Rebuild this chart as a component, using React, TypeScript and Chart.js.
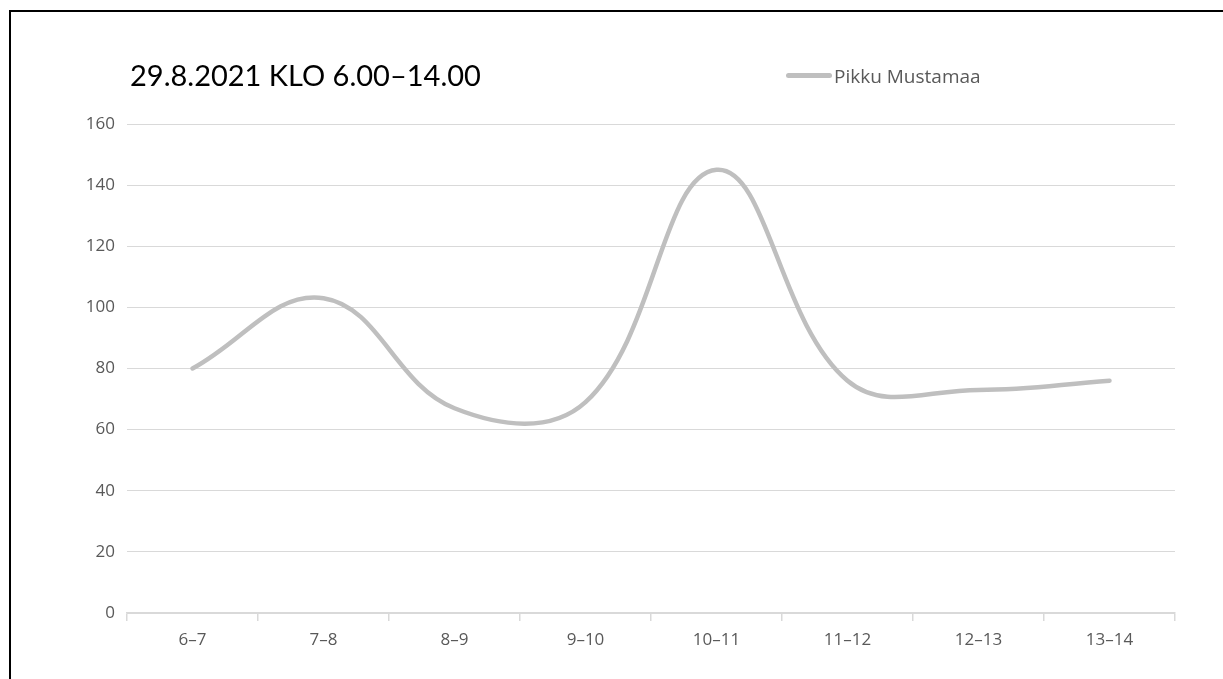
import React, { useEffect, useRef } from "react";
import { Chart, registerables } from "chart.js";

Chart.register(...registerables);

const categories = ["6–7", "7–8", "8–9", "9–10", "10–11", "11–12", "12–13", "13–14"];
const seriesName = "Pikku Mustamaa";
const seriesValues = [80, 103, 67, 69, 145, 76, 73, 76];
const yMin = 0;
const yMax = 160;
const yStep = 20;
const titleText = "29.8.2021 KLO 6.00–14.00";

const LABEL_COLOR = "#595959";
const GRID_COLOR = "#D9D9D9";
const LINE_COLOR = "#BFBFBF";
const FONT = "'Open Sans', 'Noto Sans', sans-serif";

export default function App() {
  const canvasRef = useRef<HTMLCanvasElement | null>(null);

  useEffect(() => {
    const canvas = canvasRef.current;
    if (!canvas) return;
    const chart = new Chart(canvas, {
      type: "line",
      data: {
        labels: categories,
        datasets: [
          {
            label: seriesName,
            data: seriesValues,
            borderColor: LINE_COLOR,
            backgroundColor: LINE_COLOR,
            borderWidth: 4.5,
            borderCapStyle: "round",
            borderJoinStyle: "round",
            pointRadius: 0,
            pointHoverRadius: 0,
            fill: false,
            tension: 0.4,
            cubicInterpolationMode: "default",
          },
        ],
      },
      options: {
        animation: false,
        responsive: false,
        maintainAspectRatio: false,
        events: [],
        layout: { padding: { left: 0, top: 124, right: 48, bottom: 0 } },
        plugins: {
          legend: { display: false },
          title: { display: false },
          tooltip: { enabled: false },
        },
        scales: {
          x: {
            type: "category",
            offset: true,
            grid: {
              offset: true,
              drawOnChartArea: false,
              drawTicks: true,
              tickLength: 8,
              color: GRID_COLOR,
              lineWidth: 1.5,
            },
            border: { display: true, color: GRID_COLOR, width: 1.5 },
            ticks: {
              color: LABEL_COLOR,
              font: { family: FONT, size: 17 },
              padding: 9,
              maxRotation: 0,
              autoSkip: false,
            },
            afterFit: (s: any) => {
              s.height = 66;
            },
          },
          y: {
            min: yMin,
            max: yMax,
            ticks: {
              stepSize: yStep,
              color: LABEL_COLOR,
              font: { family: FONT, size: 17 },
              padding: 12,
            },
            grid: { color: GRID_COLOR, drawTicks: false, lineWidth: 1 },
            border: { display: false },
            afterFit: (s: any) => {
              s.width = 127;
            },
          },
        },
      },
    });
    return () => chart.destroy();
  }, []);

  return (
    <div
      style={{
        position: "fixed",
        left: 0,
        top: 0,
        width: 1223,
        height: 679,
        background: "#fff",
        overflow: "hidden",
      }}
    >
      <canvas
        ref={canvasRef}
        width={1223}
        height={679}
        style={{ position: "absolute", left: 0, top: 0, width: 1223, height: 679 }}
      />
      <div
        style={{
          position: "absolute",
          left: 9,
          top: 10,
          width: 1400,
          height: 800,
          borderLeft: "2px solid #000",
          borderTop: "2px solid #000",
          pointerEvents: "none",
        }}
      />
      <div
        style={{
          position: "absolute",
          left: 130,
          top: 57,
          fontFamily: "Lato, 'DejaVu Sans', sans-serif",
          fontSize: 29,
          lineHeight: "36px",
          color: "#000",
          whiteSpace: "nowrap",
        }}
      >
        {titleText}
      </div>
      <div
        style={{
          position: "absolute",
          left: 786,
          top: 73,
          width: 46,
          height: 5,
          borderRadius: 3,
          background: LINE_COLOR,
        }}
      />
      <div
        style={{
          position: "absolute",
          left: 834,
          top: 62,
          fontFamily: FONT,
          fontSize: 19,
          lineHeight: "28px",
          color: LABEL_COLOR,
          whiteSpace: "nowrap",
        }}
      >
        {seriesName}
      </div>
    </div>
  );
}
